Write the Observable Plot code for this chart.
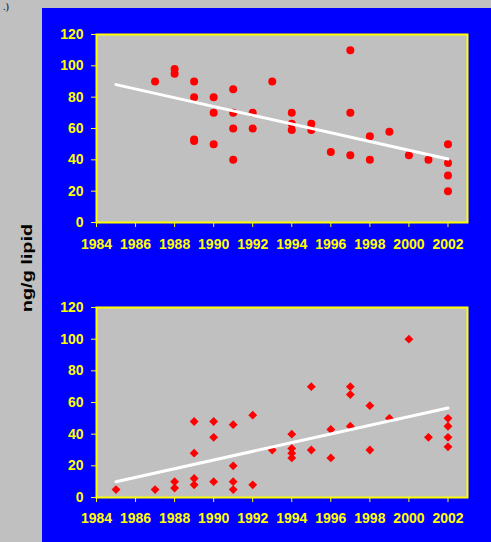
<!DOCTYPE html>
<html>
<head>
<meta charset="utf-8">
<script src="https://cdn.jsdelivr.net/npm/d3@7"></script>
<script src="https://cdn.jsdelivr.net/npm/@observablehq/plot@0.6"></script>
<style>
  html, body { margin: 0; padding: 0; }
  body { width: 491px; height: 542px; background: #c0c0c0; position: relative; overflow: hidden; }
  #panel { position: absolute; left: 42px; top: 8px; width: 449px; height: 534px; background: #0000ff; }
  #panel svg { position: absolute; left: 0; display: block; }
  #panel svg text { font-weight: bold; }
  #ylabel {
    position: absolute; left: 26.5px; top: 267.5px;
    font: bold 14px "Liberation Sans", Arial, sans-serif; color: #000;
    white-space: nowrap; line-height: 1;
    transform: translate(-50%, -50%) rotate(-90deg) scaleX(1.42);
  }
  #tag {
    position: absolute; left: 3px; top: 1px;
    font: 10px "Liberation Serif", "Times New Roman", serif; color: #000;
    line-height: 1.2; white-space: nowrap;
  }
</style>
</head>
<body>
<div id="tag">.)</div>
<div id="ylabel">ng/g lipid</div>
<div id="panel"></div>
<script>
// Upper panel: concentrations by sampling year (circles)
const topYears  = [1987, 1988, 1988, 1989, 1989, 1989, 1989, 1990, 1990, 1990,
                   1991, 1991, 1991, 1991, 1992, 1992, 1993, 1994, 1994, 1994,
                   1995, 1995, 1996, 1997, 1997, 1997, 1998, 1998, 1999, 2000,
                   2001, 2002, 2002, 2002, 2002];
const topValues = [90, 98, 95, 90, 80, 53, 52, 80, 70, 50,
                   85, 70, 60, 40, 70, 60, 90, 70, 63, 59,
                   63, 59, 45, 110, 70, 43, 55, 40, 58, 43,
                   40, 50, 38, 30, 20];
const topTrendYears  = [1985, 2002];
const topTrendValues = [88, 40.5];

// Lower panel: concentrations by sampling year (diamonds)
const bottomYears  = [1985, 1987, 1988, 1988, 1989, 1989, 1989, 1989, 1990, 1990,
                      1990, 1991, 1991, 1991, 1991, 1992, 1992, 1993, 1994, 1994,
                      1994, 1994, 1995, 1995, 1996, 1996, 1997, 1997, 1997, 1998,
                      1998, 1999, 2000, 2001, 2002, 2002, 2002, 2002];
const bottomValues = [5, 5, 10, 6, 48, 28, 12, 8, 48, 38,
                      10, 46, 20, 10, 5, 52, 8, 30, 40, 31,
                      28, 25, 70, 30, 43, 25, 70, 65, 45, 58,
                      30, 50, 100, 38, 50, 45, 38, 32];
const bottomTrendYears  = [1985, 2002];
const bottomTrendValues = [10, 56.5];

const xTicks = [1984, 1986, 1988, 1990, 1992, 1994, 1996, 1998, 2000, 2002];
const yTicks = [0, 20, 40, 60, 80, 100, 120];

const YELLOW = "#ffff00", GRAY = "#c0c0c0", RED = "#ff0000";

function panel({years, values, trendYears, trendValues, symbol, r, height, marginTop, marginBottom, tickPadding}) {
  const pts = years.map((y, i) => ({year: y, value: values[i]}));
  const trend = trendYears.map((y, i) => ({year: y, value: trendValues[i]}));
  return Plot.plot({
    width: 449,
    height,
    marginLeft: 54,
    marginRight: 24,
    marginTop,
    marginBottom,
    style: {
      background: "transparent",
      color: YELLOW,
      fontFamily: "'Liberation Sans', Arial, sans-serif",
      fontSize: "14px",
      fontWeight: "bold"
    },
    x: {domain: [1984, 2003], ticks: xTicks, tickFormat: d3.format("d"),
        tickSize: 5, tickPadding, label: null, line: false},
    y: {domain: [0, 120], ticks: yTicks, tickSize: 5, tickPadding: 8,
        label: null, line: false},
    marks: [
      Plot.frame({fill: GRAY}),
      Plot.dot(pts, {x: "year", y: "value", symbol, r, fill: RED, stroke: "none"}),
      Plot.line(trend, {x: "year", y: "value", stroke: "#ffffff", strokeWidth: 3}),
      Plot.frame({stroke: YELLOW, strokeWidth: 2})
    ]
  });
}

const host = document.getElementById("panel");

const upper = panel({
  years: topYears, values: topValues,
  trendYears: topTrendYears, trendValues: topTrendValues,
  symbol: "circle", r: 4, height: 250, marginTop: 26, marginBottom: 36, tickPadding: 12
});
upper.style.top = "0px";
host.appendChild(upper);

const lower = panel({
  years: bottomYears, values: bottomValues,
  trendYears: bottomTrendYears, trendValues: bottomTrendValues,
  symbol: d3.symbolDiamond2, r: 4, height: 284, marginTop: 49, marginBottom: 45, tickPadding: 11
});
lower.style.top = "250px";
host.appendChild(lower);
</script>
</body>
</html>
